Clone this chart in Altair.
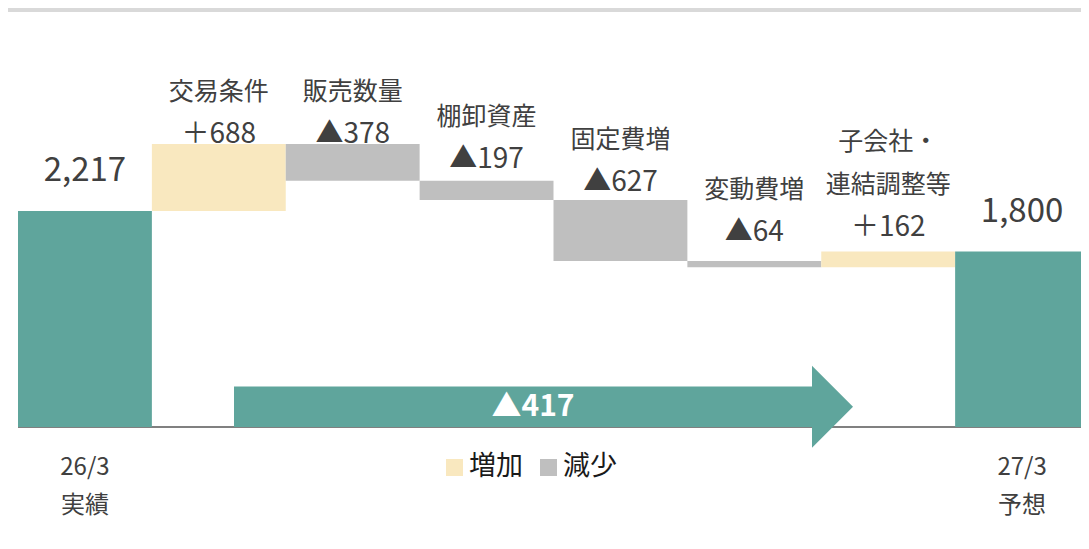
import altair as alt
import pandas as pd

# ---------------- data ----------------
keys = ["k0", "k1", "k2", "k3", "k4", "k5", "k6", "k7"]
categories = ["", "交易条件", "販売数量", "棚卸資産", "固定費増", "変動費増", "子会社・\n連結調整等", ""]
bottom_labels = ["26/3\n実績", "", "", "", "", "", "", "27/3\n予想"]
start_total = 2217
deltas = [688, -378, -197, -627, -64, 162]
end_total = 1800
value_labels = ["2,217", "＋688", "▲378", "▲197", "▲627", "▲64", "＋162", "1,800"]
total_change = 417
total_change_label = "▲417"
legend_labels = ["増加", "減少"]

# ---------------- style / layout ----------------
TEAL = "#5fa59c"
YELLOW = "#f9e8bf"
GRAY = "#bfbfbf"
TEXT = "#404040"
FONT = "Noto Sans CJK JP"
W, H = 1063, 530
BAND_SPAN = 1071
Y_MIN, Y_MAX = -1139, 4300
UPP = (Y_MAX - Y_MIN) / H  # data units per pixel
label_lift_px = [40, 9, 9, 21, 17, 28, 24, 40]
CAT_GAP = 35
CAT_LINE = 43

# ---------------- build table ----------------
rows = []
running = start_total
rows.append(dict(key=keys[0], y0=0, y1=start_total, kind="total"))
for i, d in enumerate(deltas):
    rows.append(dict(key=keys[i + 1], y0=running, y1=running + d,
                     kind="inc" if d > 0 else "dec"))
    running += d
rows.append(dict(key=keys[-1], y0=0, y1=end_total, kind="total"))
df = pd.DataFrame(rows)
df["top"] = df[["y0", "y1"]].max(axis=1)
df["value_label"] = value_labels
df["category"] = categories
df["bottom"] = bottom_labels
lift = pd.Series(label_lift_px)
nlines = pd.Series([c.count("\n") + 1 for c in categories])
df["val_y"] = df["top"] + lift * UPP
df["cat_y"] = df["top"] + (lift + CAT_GAP + CAT_LINE * (nlines - 1)) * UPP

xenc = alt.X("key:N", sort=keys, axis=None,
             scale=alt.Scale(paddingInner=0, paddingOuter=0, range=[0, BAND_SPAN]))
yscale = alt.Scale(domain=[Y_MIN, Y_MAX], nice=False, zero=False)

base = alt.Chart(df)

baseline = alt.Chart(pd.DataFrame({"v": [0]})).mark_rule(
    color="#808080", strokeWidth=2
).encode(y=alt.Y("v:Q", scale=yscale, axis=None))

bars = base.mark_bar(strokeWidth=0).encode(
    x=xenc,
    y=alt.Y("y0:Q", scale=yscale, axis=None),
    y2="y1:Q",
    color=alt.Color("kind:N", legend=None,
                    scale=alt.Scale(domain=["total", "inc", "dec"],
                                    range=[TEAL, YELLOW, GRAY])),
)

totals_text = base.transform_filter(alt.datum.kind == "total").mark_text(
    font=FONT, fontSize=33, color=TEXT, baseline="middle"
).encode(x=xenc, y=alt.Y("val_y:Q", scale=yscale), text="value_label:N")

delta_text = base.transform_filter(alt.datum.kind != "total").mark_text(
    font=FONT, fontSize=28, color=TEXT, baseline="middle"
).encode(x=xenc, y=alt.Y("val_y:Q", scale=yscale), text="value_label:N")

cat_text = base.transform_filter(alt.datum.category != "").mark_text(
    font=FONT, fontSize=25, color=TEXT, baseline="alphabetic",
    lineBreak="\n", lineHeight=CAT_LINE
).encode(x=xenc, y=alt.Y("cat_y:Q", scale=yscale), text="category:N")

bottom_text = base.transform_filter(alt.datum.bottom != "").mark_text(
    font=FONT, fontSize=24, color=TEXT, baseline="alphabetic",
    lineBreak="\n", lineHeight=38
).encode(x=xenc, y=alt.value(467), text="bottom:N")

arrow_df = pd.DataFrame({"y0": [0], "y1": [total_change], "mid": [total_change / 2],
                         "label": [total_change_label]})
arrow_body = alt.Chart(arrow_df).mark_rect(color=TEAL).encode(
    x=alt.value(216), x2=alt.value(795),
    y=alt.Y("y0:Q", scale=yscale), y2="y1:Q")
arrow_head = alt.Chart(arrow_df).mark_point(
    shape="M0,-1L1,0L0,1Z", filled=True, size=6724, color=TEAL, opacity=1,
    strokeWidth=0
).encode(x=alt.value(794), y=alt.Y("mid:Q", scale=yscale))
arrow_text = alt.Chart(arrow_df).mark_text(
    font=FONT, fontSize=30, fontWeight="bold", color="white", baseline="middle"
).encode(x=alt.value(515), y=alt.Y("mid:Q", scale=yscale), text="label:N")

top_band = alt.Chart(pd.DataFrame({"v": [0]})).mark_rect(color="#d9d9d9").encode(
    x=alt.value(-10), x2=alt.value(W), y=alt.value(0), y2=alt.value(4))

leg_df = pd.DataFrame({"label": legend_labels})
leg_sq1 = alt.Chart(leg_df).transform_filter(alt.datum.label == legend_labels[0]).mark_square(
    size=289, color=YELLOW, opacity=1).encode(x=alt.value(436.5), y=alt.value(459.5))
leg_sq2 = alt.Chart(leg_df).transform_filter(alt.datum.label == legend_labels[1]).mark_square(
    size=289, color=GRAY, opacity=1).encode(x=alt.value(530.5), y=alt.value(459.5))
leg_t1 = alt.Chart(leg_df).transform_filter(alt.datum.label == legend_labels[0]).mark_text(
    font=FONT, fontSize=27, color="#1a1a1a", align="left", baseline="middle"
).encode(x=alt.value(451), y=alt.value(459), text="label:N")
leg_t2 = alt.Chart(leg_df).transform_filter(alt.datum.label == legend_labels[1]).mark_text(
    font=FONT, fontSize=27, color="#1a1a1a", align="left", baseline="middle"
).encode(x=alt.value(545), y=alt.value(459), text="label:N")

chart = alt.layer(
    top_band, baseline, bars, arrow_body, arrow_head, arrow_text,
    totals_text, delta_text, cat_text, bottom_text,
    leg_sq1, leg_sq2, leg_t1, leg_t2
).properties(
    width=W, height=H, autosize="none",
    padding={"left": 10, "top": 0, "right": 0, "bottom": 0},
    background="white"
).configure_view(stroke=None)

chart.save("out.html", embed_options={"renderer": "svg", "actions": False})
